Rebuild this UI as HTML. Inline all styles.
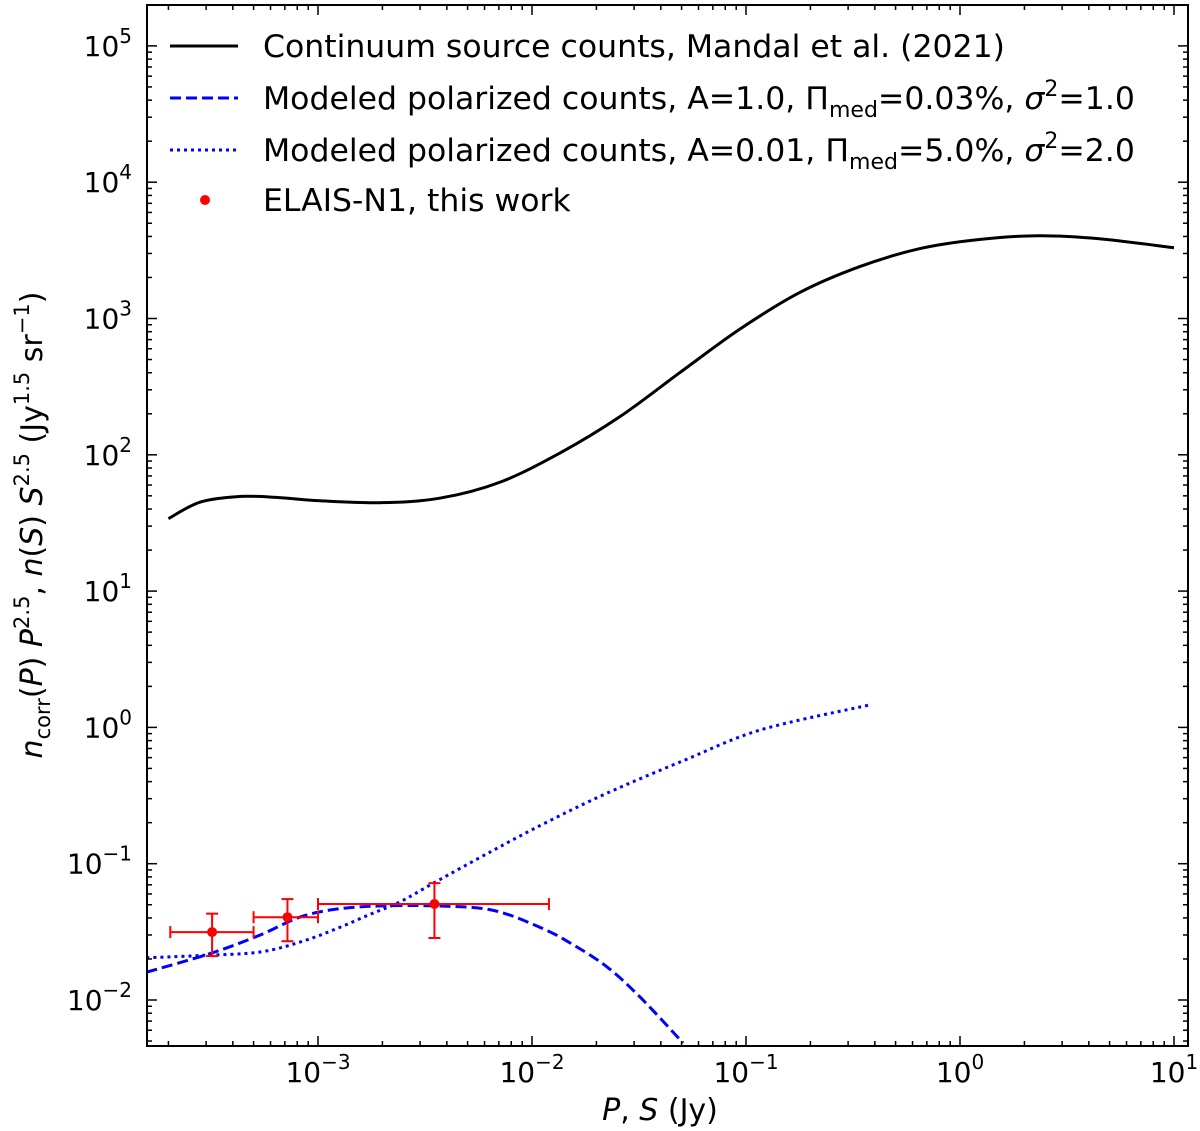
<!DOCTYPE html>
<html><head><meta charset="utf-8"><style>
body{margin:0;background:#fff;}
svg{display:block;font-family:"DejaVu Sans","Liberation Sans",sans-serif;}
</style></head><body>
<svg id="chart" width="1200" height="1131">
<g id="g"></g>
</svg>
<script>
const contX=[2e-4,2.82e-4,4.37e-4,6.6e-4,1.02e-3,1.95e-3,3.7e-3,7.1e-3,1.35e-2,2.57e-2,4.9e-2,9.3e-2,0.178,0.339,0.646,1.23,2.34,4.47,10];
const contY=[34,45,49.5,48.5,46,44.5,48,63,103,190,400,830,1550,2400,3250,3800,4050,3850,3300];
const dashX=[1.58e-4,3.16e-4,5.37e-4,8.24e-4,1.24e-3,2.0e-3,3.52e-3,6.5e-3,1.11e-2,1.56e-2,2.24e-2,3.2e-2,5.08e-2];
const dashY=[0.016,0.022,0.030,0.0406,0.0466,0.049,0.049,0.0457,0.0337,0.0254,0.0175,0.0105,0.00484];
const dotX=[1.58e-4,2.82e-4,5.37e-4,8.6e-4,1.24e-3,1.75e-3,2.41e-3,3.52e-3,6.5e-3,1.16e-2,2.26e-2,5.19e-2,0.117,0.376];
const dotY=[0.0204,0.0212,0.0225,0.0272,0.0337,0.0425,0.0524,0.073,0.124,0.2,0.331,0.577,0.958,1.46];
const ptX=[3.2e-4,7.2e-4,3.5e-3];
const ptY=[0.0315,0.0405,0.0506];
const ptXlo=[2.04e-4,5.0e-4,1e-3];
const ptXhi=[5.0e-4,1e-3,0.012];
const ptYlo=[0.021,0.027,0.0285];
const ptYhi=[0.043,0.055,0.072];
const xTicks=[-3,-2,-1,0,1];
const yTicks=[-2,-1,0,1,2,3,4,5];

const L=147,R=1188,T=5,B=1046;
const X=v=>318+(Math.log10(v)+3)*214;
const Y=v=>1000-(Math.log10(v)+2)*136.3;
const g=document.getElementById('g');
const NS='http://www.w3.org/2000/svg';
function mk(t,a,p){const e=document.createElementNS(NS,t);for(const k in a)e.setAttribute(k,a[k]);(p||g).appendChild(e);return e;}
const defs=mk('defs',{});const cp=mk('clipPath',{id:'c'},defs);mk('rect',{x:L,y:T,width:R-L,height:B-T},cp);
const plot=mk('g',{'clip-path':'url(#c)'});
function line(xs,ys,st,name){
 const P=xs.map((x,i)=>[X(x),Y(ys[i])]);
 let d='M'+P[0][0].toFixed(1)+' '+P[0][1].toFixed(1);
 for(let i=0;i<P.length-1;i++){
  const p0=P[Math.max(0,i-1)],p1=P[i],p2=P[i+1],p3=P[Math.min(P.length-1,i+2)];
  const c1=[p1[0]+(p2[0]-p0[0])/6,p1[1]+(p2[1]-p0[1])/6];
  const c2=[p2[0]-(p3[0]-p1[0])/6,p2[1]-(p3[1]-p1[1])/6];
  d+=' C'+c1.map(v=>v.toFixed(1)).join(' ')+' '+c2.map(v=>v.toFixed(1)).join(' ')+' '+p2[0].toFixed(1)+' '+p2[1].toFixed(1);
 }
 const p=mk('path',Object.assign({d:d,fill:'none'},st),plot);
 
 
}
line(contX,contY,{stroke:'#000','stroke-width':3},'continuum-counts-line');
line(dashX,dashY,{stroke:'#0000ff','stroke-width':3,'stroke-dasharray':'11 5'},'modeled-counts-dashed');
line(dotX,dotY,{stroke:'#0000ff','stroke-width':3,'stroke-dasharray':'3 4'},'modeled-counts-dotted');
ptX.forEach((x,i)=>{
 const gp=mk('g',{stroke:'red','stroke-width':2},plot);
 
 
 const cx=X(x),cy=Y(ptY[i]),x1=X(ptXlo[i]),x2=X(ptXhi[i]),y1=Y(ptYhi[i]),y2=Y(ptYlo[i]);
 mk('line',{x1:x1,x2:x2,y1:cy,y2:cy},gp);
 mk('line',{x1:x1,x2:x1,y1:cy-6,y2:cy+6},gp);
 mk('line',{x1:x2,x2:x2,y1:cy-6,y2:cy+6},gp);
 mk('line',{x1:cx,x2:cx,y1:y1,y2:y2},gp);
 mk('line',{x1:cx-6,x2:cx+6,y1:y1,y2:y1},gp);
 mk('line',{x1:cx-6,x2:cx+6,y1:y2,y2:y2},gp);
 mk('circle',{cx:cx,cy:cy,r:5,fill:'red',stroke:'none'},gp);
});
const tk=mk('g',{stroke:'#000','stroke-width':1.5});
for(let e=-4;e<=1;e++)for(let m=1;m<10;m++){const v=m*Math.pow(10,e);const x=X(v);if(x<L||x>R)continue;const len=m==1?10:5;
 mk('line',{x1:x,x2:x,y1:B,y2:B-len},tk);mk('line',{x1:x,x2:x,y1:T,y2:T+len},tk);}
for(let e=-3;e<=5;e++)for(let m=1;m<10;m++){const v=m*Math.pow(10,e);const y=Y(v);if(y<T||y>B)continue;const len=m==1?10:5;
 mk('line',{x1:L,x2:L+len,y1:y,y2:y},tk);mk('line',{x1:R,x2:R-len,y1:y,y2:y},tk);}
xTicks.forEach(e=>{const t=mk('text',{x:X(Math.pow(10,e)),y:1082,'font-size':28,'text-anchor':'middle'});
 
 t.innerHTML='10<tspan dy="-13" font-size="20">'+(e<0?'−'+(-e):e)+'</tspan>';});
yTicks.forEach(e=>{const t=mk('text',{x:132,y:Y(Math.pow(10,e))+10,'font-size':28,'text-anchor':'end'});
 
 t.innerHTML='10<tspan dy="-13" font-size="20">'+(e<0?'−'+(-e):e)+'</tspan>';});
const fr=mk('rect',{x:L,y:T,width:R-L,height:B-T,fill:'none',stroke:'#000','stroke-width':2});

</script>
<script>
const svg=document.getElementById('chart');
const lg=document.createElementNS('http://www.w3.org/2000/svg','g');


lg.setAttribute('font-size','31.5');
lg.innerHTML=`
<line x1="170" x2="238" y1="46" y2="46" stroke="#000" stroke-width="3"/>
<text x="263" y="57">Continuum source counts, Mandal et al. (2021)</text>
<line x1="170" x2="238" y1="98" y2="98" stroke="#00f" stroke-width="3" stroke-dasharray="11 5"/>
<text x="263" y="109">Modeled polarized counts, A=1.0, Π<tspan dy="8" font-size="22">med</tspan><tspan dy="-8">=0.03%, </tspan><tspan font-style="italic">σ</tspan><tspan dy="-13" font-size="22">2</tspan><tspan dy="13">=1.0</tspan></text>
<line x1="170" x2="238" y1="150" y2="150" stroke="#00f" stroke-width="3" stroke-dasharray="3 4"/>
<text x="263" y="161">Modeled polarized counts, A=0.01, Π<tspan dy="8" font-size="22">med</tspan><tspan dy="-8">=5.0%, </tspan><tspan font-style="italic">σ</tspan><tspan dy="-13" font-size="22">2</tspan><tspan dy="13">=2.0</tspan></text>
<circle cx="205" cy="200" r="5" fill="red"/>
<text x="263" y="211">ELAIS-N1, this work</text>`;
svg.appendChild(lg);
const xl=document.createElementNS('http://www.w3.org/2000/svg','text');


xl.setAttribute('x','660');xl.setAttribute('y','1120');xl.setAttribute('font-size','30');xl.setAttribute('text-anchor','middle');
xl.innerHTML='<tspan font-style="italic">P</tspan>,  <tspan font-style="italic">S</tspan> (Jy)';
svg.appendChild(xl);
const yl=document.createElementNS('http://www.w3.org/2000/svg','text');


yl.setAttribute('transform','translate(42,525) rotate(-90)');yl.setAttribute('font-size','30');yl.setAttribute('text-anchor','middle');
yl.innerHTML='<tspan font-style="italic">n</tspan><tspan dy="8" font-size="21">corr</tspan><tspan dy="-8">(</tspan><tspan font-style="italic">P</tspan>) <tspan font-style="italic">P</tspan><tspan dy="-13" font-size="21">2.5</tspan><tspan dy="13">,  </tspan><tspan font-style="italic">n</tspan>(<tspan font-style="italic">S</tspan>) <tspan font-style="italic">S</tspan><tspan dy="-13" font-size="21">2.5</tspan><tspan dy="13"> (Jy</tspan><tspan dy="-13" font-size="21">1.5</tspan><tspan dy="13"> sr</tspan><tspan dy="-13" font-size="21">−1</tspan><tspan dy="13">)</tspan>';
svg.appendChild(yl);
</script>
</body></html>
